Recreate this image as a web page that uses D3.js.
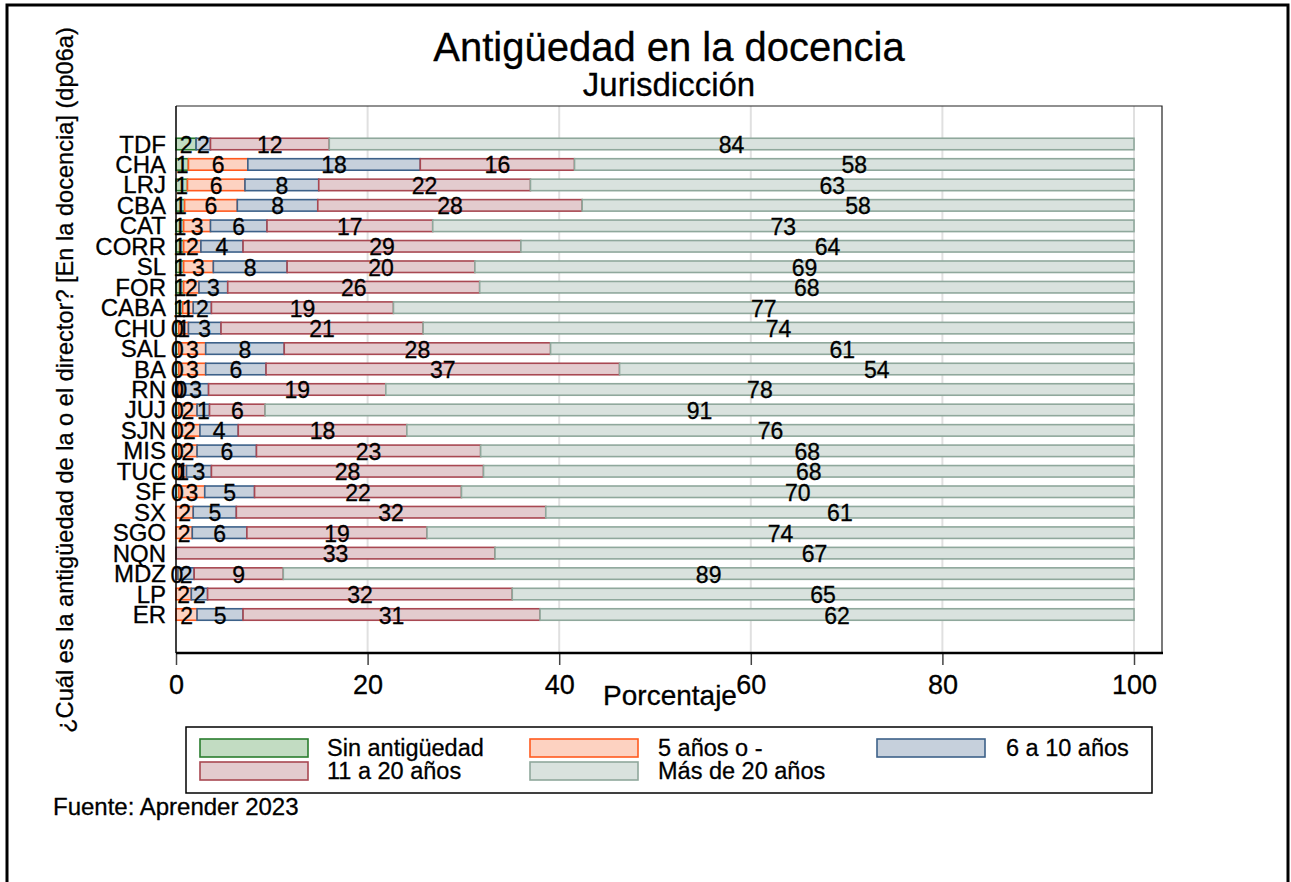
<!DOCTYPE html>
<html><head><meta charset="utf-8">
<script src="https://cdn.jsdelivr.net/npm/d3@7"></script>
<style>body{margin:0;background:#fff}svg{display:block;font-family:"Liberation Sans",Arial,sans-serif}svg text{stroke:#000;stroke-width:0.3px}</style>
</head><body><svg id="c" width="1291" height="882"></svg>
<script>
const categories = ["TDF","CHA","LRJ","CBA","CAT","CORR","SL","FOR","CABA","CHU","SAL","BA","RN","JUJ","SJN","MIS","TUC","SF","SX","SGO","NQN","MDZ","LP","ER"];
const seriesNames = ["Sin antigüedad","5 años o -","6 a 10 años","11 a 20 años","Más de 20 años"];
const sinAntiguedad = [2.1,1.3,1.2,0.9,0.8,0.8,0.8,0.8,0.7,0.3,0.3,0.3,0.3,0.3,0.3,0.3,0.3,0.3,0,0,0,0,0,0];
const cincoOMenos  = [0,6.2,6.0,5.5,2.8,1.8,3.1,1.6,1.1,1.0,2.8,2.8,0.4,1.9,2.2,1.9,0.8,2.7,1.8,1.7,0,0.2,1.6,2.2];
const seisADiez    = [1.5,18.0,7.7,8.4,5.9,4.4,7.7,3.0,1.9,3.4,8.2,6.3,2.7,1.3,4.0,6.2,2.6,5.2,4.5,5.7,0,1.7,1.7,4.8];
const onceAVeinte  = [12.4,16.1,22.1,27.6,17.3,29.0,19.6,26.3,19.0,21.1,27.8,36.9,18.5,5.8,17.6,23.4,28.4,21.6,32.3,18.8,33.3,9.3,31.8,31.0];
const masDeVeinte  = [84.0,58.4,63.0,57.6,73.2,64.0,68.8,68.3,77.3,74.2,60.9,53.7,78.1,90.7,75.9,68.2,67.9,70.2,61.4,73.8,66.7,88.8,64.9,62.0];
const xTicks = [0,20,40,60,80,100];

const fills   = ["#c2dcc2","#fdd2c1","#c6d0dc","#e3cbce","#d9e2de"];
const strokes = ["#2a7d2e","#ff5a1f","#3d6189","#a84852","#8fa89c"];

const series = [sinAntiguedad,cincoOMenos,seisADiez,onceAVeinte,masDeVeinte];
const table = categories.map((c,i)=>{const o={cat:c}; seriesNames.forEach((s,k)=>o[s]=series[k][i]); return o;});
const stacked = d3.stack().keys(seriesNames)(table);

const svg = d3.select("#c");
svg.append("rect").attr("width",1291).attr("height",882).attr("fill","#fff");

// outer frame
svg.append("path").attr("d","M7,882 V5 H1288 V882").attr("fill","none").attr("stroke","#000").attr("stroke-width",3);

const x = d3.scaleLinear().domain([0,100]).range([176,1134]);
const y = d3.scalePoint().domain(categories).range([144,614.5]);
const barH = 11.5;
const plotTop = 106, plotBottom = 653, plotRight = 1162;

// gridlines
svg.append("g").selectAll("line").data(xTicks.filter(t=>t>0)).join("line")
  .attr("x1",d=>x(d)).attr("x2",d=>x(d)).attr("y1",plotTop).attr("y2",plotBottom)
  .attr("stroke","#e0e0e0").attr("stroke-width",2);

// plot frame top/right
svg.append("path").attr("d",`M${x(0)},${plotTop} H${plotRight} V${plotBottom}`).attr("fill","none").attr("stroke","#222").attr("stroke-width",1.2);

// bars
const gBars = svg.append("g");
stacked.forEach((layer,k)=>{
  gBars.append("g").selectAll("rect").data(layer.filter(d=>d[1]-d[0]>0)).join("rect")
    .attr("x",d=>x(d[0])).attr("width",d=>x(d[1])-x(d[0]))
    .attr("y",d=>y(d.data.cat)-barH/2).attr("height",barH)
    .attr("fill",fills[k]).attr("stroke",strokes[k]).attr("stroke-width",1.6);
});

// labels
const gLab = svg.append("g").attr("font-size",23).attr("fill","#000").attr("text-anchor","middle");
stacked.forEach((layer,k)=>{
  gLab.append("g").selectAll("text").data(layer.filter(d=>d[1]-d[0]>0)).join("text")
    .attr("x",d=>x((d[0]+d[1])/2)).attr("y",d=>y(d.data.cat)+9)
    .text(d=>Math.round(d[1]-d[0]));
});

// y axis line & labels
svg.append("line").attr("x1",x(0)).attr("x2",x(0)).attr("y1",plotTop).attr("y2",plotBottom).attr("stroke","#000").attr("stroke-width",1.5);
svg.append("g").attr("font-size",24).attr("text-anchor","end").selectAll("text").data(categories).join("text")
  .attr("x",166).attr("y",d=>y(d)+8.5).text(d=>d);

// x axis
const xAxis = d3.axisBottom(x).tickValues(xTicks).tickSize(12).tickPadding(10).tickFormat(d3.format("d"));
const gx = svg.append("g").attr("transform",`translate(0,${plotBottom})`).call(xAxis);
gx.select(".domain").remove();
gx.selectAll(".tick line").attr("stroke","#444").attr("stroke-width",1.5);
gx.selectAll(".tick text").attr("font-size",27).attr("font-family","Liberation Sans, Arial, sans-serif").attr("fill","#000");
svg.append("line").attr("x1",x(0)).attr("x2",plotRight+1).attr("y1",plotBottom).attr("y2",plotBottom).attr("stroke","#000").attr("stroke-width",2.5);

svg.append("text").attr("x",670).attr("y",705).attr("text-anchor","middle").attr("font-size",28).text("Porcentaje");

// titles
svg.append("text").attr("x",669).attr("y",61).attr("text-anchor","middle").attr("font-size",40).text("Antigüedad en la docencia");
svg.append("text").attr("x",669).attr("y",96).attr("text-anchor","middle").attr("font-size",33).text("Jurisdicción");

// y title
svg.append("text").attr("transform","translate(73,380) rotate(-90)").attr("text-anchor","middle").attr("font-size",23.6)
  .text("¿Cuál es la antigüedad de la o el director? [En la docencia] (dp06a)");

// legend
svg.append("rect").attr("x",186).attr("y",727).attr("width",966).attr("height",66).attr("fill","#fff").attr("stroke","#000").attr("stroke-width",1.5);
const legPos = [[200,748,327],[530,748,658],[877,748,1006],[200,771,327],[530,771,658]];
const gl = svg.append("g");
seriesNames.forEach((s,k)=>{
  const [sx,cy,tx] = legPos[k];
  gl.append("rect").attr("x",sx).attr("y",cy-9).attr("width",108).attr("height",18).attr("fill",fills[k]).attr("stroke",strokes[k]).attr("stroke-width",1.6);
  gl.append("text").attr("x",tx).attr("y",cy+8).attr("font-size",23.5).text(s);
});

svg.append("text").attr("x",53).attr("y",815).attr("font-size",24).text("Fuente: Aprender 2023");
</script></body></html>
